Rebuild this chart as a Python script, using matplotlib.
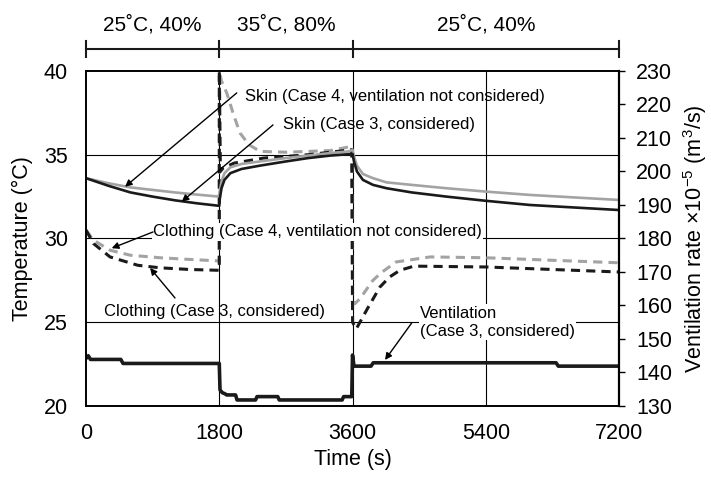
import matplotlib
matplotlib.use('Agg')

import numpy as np
import matplotlib.pyplot as plt
from matplotlib import transforms

plt.rcParams['font.family'] = ['Liberation Sans', 'DejaVu Sans']
plt.rcParams['mathtext.fontset'] = 'custom'
plt.rcParams['mathtext.rm'] = 'Liberation Sans'
plt.rcParams['mathtext.it'] = 'Liberation Sans:italic'

# skin temperature, case 3 (ventilation considered) - black solid
skin3_t = [0, 300, 600, 900, 1200, 1500, 1800, 1805, 1830, 1870, 1950, 2100, 2350,
           2700, 3000, 3300, 3600, 3620, 3660, 3740, 3877, 4060, 4400, 4870, 5400,
           6000, 6600, 7200]
skin3_T = [33.6, 33.15, 32.75, 32.5, 32.28, 32.1, 31.95, 32.3, 33.0, 33.5, 33.9, 34.15,
           34.35, 34.6, 34.8, 34.95, 35.05, 34.6, 34.0, 33.5, 33.2, 33.0, 32.75, 32.5,
           32.25, 32.0, 31.85, 31.7]

# skin temperature, case 4 (ventilation not considered) - gray solid
skin4_t = [0, 300, 600, 900, 1200, 1500, 1800, 1805, 1830, 1870, 1950, 2100, 2350,
           2700, 3000, 3300, 3550, 3600, 3620, 3660, 3740, 3877, 4060, 4400, 4870,
           5400, 6000, 6600, 7200]
skin4_T = [33.6, 33.3, 33.05, 32.9, 32.75, 32.62, 32.5, 32.8, 33.4, 33.9, 34.25, 34.45,
           34.6, 34.8, 34.95, 35.1, 35.2, 35.3, 34.9, 34.35, 33.85, 33.6, 33.35, 33.2,
           33.0, 32.8, 32.6, 32.45, 32.3]

# clothing temperature, case 4 - gray dashed
cloth4_t = [0, 100, 324, 600, 1000, 1400, 1800, 1801, 1830, 1900, 2000, 2080, 2200,
            2350, 2700, 3000, 3300, 3590, 3601, 3630, 3700, 3875, 4000, 4190, 4650,
            5400, 6000, 6600, 7200]
cloth4_T = [30.5, 29.9, 29.3, 29.0, 28.85, 28.75, 28.66, 40.0, 39.4, 38.7, 37.3, 36.3,
            35.6, 35.2, 35.15, 35.2, 35.25, 35.5, 26.6, 26.1, 26.4, 27.5, 28.0, 28.6,
            28.9, 28.85, 28.75, 28.65, 28.55]

# clothing temperature, case 3 - black dashed
cloth3_t = [0, 100, 324, 700, 1000, 1400, 1800, 1801, 1815, 1850, 2000, 2400, 3000,
            3590, 3601, 3650, 3800, 3970, 4100, 4240, 4430, 5400, 6000, 6600, 7200]
cloth3_T = [30.5, 29.7, 28.9, 28.4, 28.25, 28.15, 28.1, 40.0, 34.0, 34.2, 34.5, 34.8,
            35.0, 35.3, 25.0, 24.6, 25.8, 27.1, 27.7, 28.1, 28.35, 28.3, 28.2, 28.1, 28.0]

# ventilation rate (case 3), x1e-5 m3/s
vent_t = [0, 30, 60, 470, 500, 1800, 1810, 1840, 1880, 1900, 2020, 2040, 2290, 2310,
          2590, 2610, 3460, 3480, 3590, 3600, 3620, 3850, 3880, 6350, 6380, 7200]
vent_v = [144.2, 145.0, 143.9, 143.9, 142.7, 142.7, 134.8, 134.0, 133.6, 133.3, 133.3,
          131.8, 131.8, 132.8, 132.8, 131.8, 131.8, 132.8, 132.8, 145.2, 141.9, 141.9,
          142.9, 142.9, 141.9, 141.9]

phase_edges = [0, 1800, 3600, 7200]
phase_labels = ['25˚C, 40%', '35˚C, 80%', '25˚C, 40%']

BLACK = '#1a1a1a'
GRAY = '#a3a3a3'

fig = plt.figure(figsize=(7.11, 4.79), dpi=100)
ax = fig.add_axes([0.121, 0.1524, 0.7496, 0.6994])
ax2 = ax.twinx()

# grid
for y in [25, 30, 35]:
    ax.axhline(y, color='black', lw=0.8, zorder=1)
for x in [1800, 3600, 5400]:
    ax.axvline(x, color='black', lw=0.8, zorder=1)

ax.plot(cloth4_t, cloth4_T, color=GRAY, lw=2.2, dashes=(3, 2), zorder=3)
ax.plot(cloth3_t, cloth3_T, color=BLACK, lw=2.2, dashes=(3, 2), zorder=3)
ax.plot(skin4_t, skin4_T, color=GRAY, lw=1.9, zorder=4)
ax.plot(skin3_t, skin3_T, color=BLACK, lw=1.9, zorder=4)

ax2.plot(vent_t, vent_v, color=BLACK, lw=2.6)

ax.set_xlim(0, 7200)
ax.set_ylim(20, 40)
ax2.set_ylim(130, 230)
ax.set_xticks([0, 1800, 3600, 5400, 7200])
ax.set_yticks([20, 25, 30, 35, 40])
ax2.set_yticks(np.arange(130, 231, 10))

ax.tick_params(axis='both', length=0, labelsize=15.5)
ax.tick_params(axis='y', pad=13)
ax.tick_params(axis='x', pad=12)
ax2.tick_params(axis='y', length=4.5, width=1, labelsize=15.5, pad=8)

for s in ax.spines.values():
    s.set_linewidth(1.2)
for s in ax2.spines.values():
    s.set_linewidth(1.2)
ax2.spines['right'].set_linewidth(1.6)

ax.set_xlabel('Time (s)', fontsize=15.5, labelpad=4)
ax.set_ylabel('Temperature (°C)', fontsize=15.5, labelpad=8)
ax2.set_ylabel(r'Ventilation rate ×10$^{-5}$ (m$^3$/s)', fontsize=15.5, labelpad=6)

# phase bracket above the plot
trans = transforms.blended_transform_factory(ax.transData, ax.transAxes)
ax.plot([phase_edges[0], phase_edges[-1]], [1.0657, 1.0657], color=BLACK, lw=1.5,
        transform=trans, clip_on=False)
for x in phase_edges:
    ax.plot([x, x], [1.042, 1.09], color=BLACK, lw=1.5, transform=trans, clip_on=False)
for i, lab in enumerate(phase_labels):
    xc = (phase_edges[i] + phase_edges[i + 1]) / 2
    ax.text(xc, 1.137, lab, transform=trans, ha='center', va='center', fontsize=15)

# annotations
box = dict(facecolor='white', edgecolor='none', pad=1)
arrow = dict(arrowstyle='-|>', color='black', lw=1.0, mutation_scale=10, shrinkA=0, shrinkB=0)
ax.annotate('', xy=(527, 33.09), xytext=(2036, 38.69), arrowprops=arrow, zorder=6)
ax.text(2148, 38.45, 'Skin (Case 4, ventilation not considered)', fontsize=12,
        ha='left', va='center', zorder=6)
ax.annotate('', xy=(1293, 32.2), xytext=(2526, 36.78), arrowprops=arrow, zorder=6)
ax.text(2661, 36.78, 'Skin (Case 3, considered)', fontsize=12, ha='left', va='center',
        zorder=6)
ax.annotate('', xy=(347, 29.42), xytext=(905, 30.39), arrowprops=arrow, zorder=6)
ax.text(905, 30.39, 'Clothing (Case 4, ventilation not considered)', fontsize=12,
        ha='left', va='center', bbox=box, zorder=5)
ax.annotate('', xy=(865, 28.24), xytext=(1202, 26.45), arrowprops=arrow, zorder=6)
ax.text(1729, 25.63, 'Clothing (Case 3, considered)', fontsize=12, ha='center',
        va='center', zorder=6)
ax.annotate('', xy=(4039, 22.75), xytext=(4400, 24.96), arrowprops=arrow, zorder=6)
ax.text(4512, 25.0, 'Ventilation\n(Case 3, considered)', fontsize=12, ha='left',
        va='center', bbox=box, linespacing=1.25, zorder=5)

fig.savefig('out.png', dpi=100)
